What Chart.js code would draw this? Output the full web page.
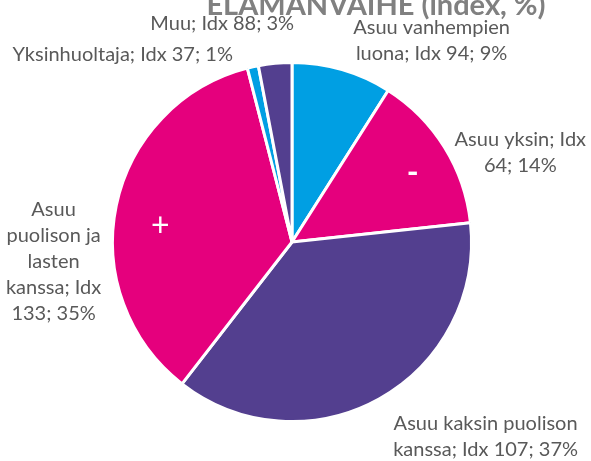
<!DOCTYPE html>
<html>
<head>
<meta charset="utf-8">
<title>Elämänvaihe</title>
<script src="https://cdn.jsdelivr.net/npm/chart.js"></script>
<style>
  html, body { margin: 0; padding: 0; background: #fff; }
  #wrap { width: 591px; height: 461px; }
</style>
</head>
<body>
<div id="wrap"><canvas id="grafiikka"></canvas></div>
<script>
// data
const kategoriat = ['Asuu vanhempien luona', 'Asuu yksin', 'Asuu kaksin puolison kanssa',
  'Asuu puolison ja lasten kanssa', 'Yksinhuoltaja', 'Muu'];
const osuudet = [9.0, 14.3, 37.2, 35.5, 1.0, 3.0];
const indeksit = [94, 64, 107, 133, 37, 88];
const prosentit = [9, 14, 37, 35, 1, 3];
const merkit = ['', '-', '', '+', '', ''];
const otsikko = 'ELÄMÄNVAIHE (index, %)';

const varit = ['#009fe3', '#e5007d', '#533f8f', '#e5007d', '#009fe3', '#533f8f'];

// label placement: angle (deg clockwise from top), distance as share of radius, wrap width
const sijainnit = [
  { kulma: 34.7, etaisyys: 1.366, leveys: 160 },
  { kulma: 68.5, etaisyys: 1.367, leveys: 140 },
  { kulma: 135.1, etaisyys: 1.528, leveys: 195 },
  { kulma: 265.2, etaisyys: 1.333, leveys: 100 },
  { kulma: 317.9, etaisyys: 1.407, leveys: 400 },
  { kulma: 342.3, etaisyys: 1.278, leveys: 400 }
];
const merkkiPaikat = [null, { kulma: 60.3, etaisyys: 0.774 }, null, { kulma: 276.9, etaisyys: 0.739 }, null, null];

function rivita(ctx, teksti, leveys) {
  const sanat = teksti.split(' ');
  const rivit = [];
  let rivi = '';
  sanat.forEach(s => {
    const koe = rivi ? rivi + ' ' + s : s;
    if (ctx.measureText(koe).width > leveys && rivi) {
      rivit.push(rivi);
      rivi = s;
    } else {
      rivi = koe;
    }
  });
  if (rivi) rivit.push(rivi);
  return rivit;
}

const tekstit = {
  id: 'tekstit',
  afterDraw(chart) {
    const ctx = chart.ctx;
    const kaaret = chart.getDatasetMeta(0).data;
    ctx.save();

    // otsikko (leikkautuu yläreunasta kuten alkuperäisessä)
    ctx.fillStyle = '#808080';
    ctx.font = 'bold 29px Lato';
    ctx.textAlign = 'center';
    ctx.textBaseline = 'alphabetic';
    ctx.fillText(otsikko, 376, 15);

    ctx.font = '20px Lato';
    ctx.fillStyle = '#595959';
    ctx.textBaseline = 'middle';
    kaaret.forEach((kaari, i) => {
      const p = sijainnit[i];
      const a = p.kulma * Math.PI / 180;
      const x = kaari.x + Math.sin(a) * kaari.outerRadius * p.etaisyys;
      const y = kaari.y - Math.cos(a) * kaari.outerRadius * p.etaisyys;
      const teksti = `${kategoriat[i]}; Idx ${indeksit[i]}; ${prosentit[i]}%`;
      const rivit = rivita(ctx, teksti, p.leveys);
      const rk = 26;
      const y0 = y - (rivit.length - 1) * rk / 2;
      rivit.forEach((r, j) => ctx.fillText(r, x, y0 + j * rk));
    });

    ctx.fillStyle = '#ffffff';
    kaaret.forEach((kaari, i) => {
      const m = merkkiPaikat[i];
      if (!m || !merkit[i]) return;
      ctx.font = merkit[i] === '-' ? 'bold 32px Lato' : '32px Lato';
      const a = m.kulma * Math.PI / 180;
      const x = kaari.x + Math.sin(a) * kaari.outerRadius * m.etaisyys;
      const y = kaari.y - Math.cos(a) * kaari.outerRadius * m.etaisyys;
      ctx.fillText(merkit[i], x, y);
    });
    ctx.restore();
  }
};

new Chart(document.getElementById('grafiikka'), {
  type: 'pie',
  data: {
    labels: kategoriat,
    datasets: [{
      data: osuudet,
      backgroundColor: varit,
      borderColor: '#ffffff',
      borderWidth: 3
    }]
  },
  options: {
    responsive: true,
    maintainAspectRatio: false,
    animation: false,
    layout: { padding: { left: 111, right: 118, top: 61, bottom: 38 } },
    plugins: {
      legend: { display: false },
      tooltip: { enabled: false },
      title: { display: false }
    }
  },
  plugins: [tekstit]
});
</script>
</body>
</html>
